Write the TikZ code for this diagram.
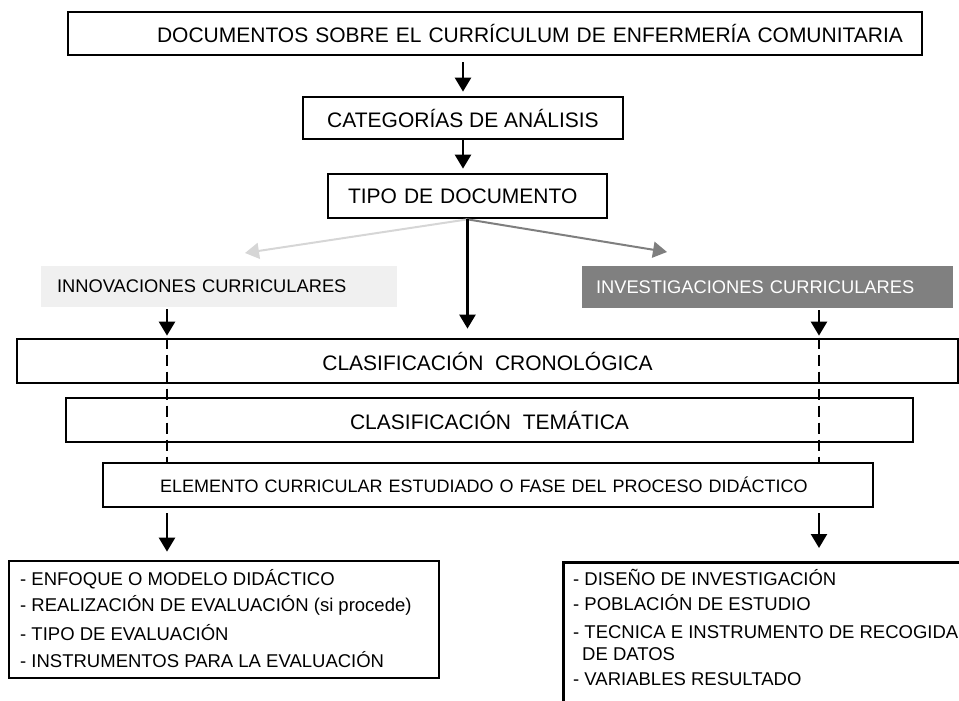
\documentclass[tikz,border=0pt]{standalone}
\usepackage{fontspec}
\setmainfont{Liberation Sans}
\usetikzlibrary{arrows.meta,positioning}

\definecolor{innovfill}{HTML}{F0F0F0}
\definecolor{investfill}{HTML}{808080}
\definecolor{lightarrow}{HTML}{D6D6D6}
\definecolor{darkarrow}{HTML}{7F7F7F}

\tikzset{
  box/.style={draw, line width=2.7pt, inner sep=0pt, minimum height=43pt,
    font=\fontsize{21}{25}\selectfont},
  tag/.style={inner sep=0pt, minimum height=41pt, align=left,
    font=\fontsize{18.3}{22}\selectfont},
  listbox/.style={draw, line width=2.7pt, inner sep=0pt},
  item/.style={inner sep=0pt, anchor=base west, font=\fontsize{18.5}{22}\selectfont},
  flow/.style={line width=2.4pt, -{Triangle[length=14pt,width=16pt]}},
  trace/.style={line width=2.6pt, dash pattern=on 11pt off 6pt},
}

\begin{document}
\begin{tikzpicture}[x=1pt,y=-1pt]
        \useasboundingbox (0,0) rectangle (959,701);
        \clip (0,0) rectangle (959,701);

        % Main chain
        \node (docs) [box, minimum width=854pt, text width=816pt, inner xsep=19pt, align=right]
          at (495,33.5) {DOCUMENTOS SOBRE EL CURRÍCULUM DE ENFERMERÍA COMUNITARIA};
        \node (cat) [box, minimum width=320pt, minimum height=42pt] at (463,118) {CATEGORÍAS DE ANÁLISIS};
        \node (tipo) [box, minimum width=279pt, minimum height=44pt, text width=239pt, inner xsep=20pt, align=left]
          at (467.5,196) {TIPO DE DOCUMENTO};

        % Document types
        \node (innov) [tag, fill=innovfill, minimum width=356pt, text width=324pt, inner xsep=16pt]
          at (219,286.5) {INNOVACIONES CURRICULARES};
        \node (invest) [tag, fill=investfill, text=white, minimum width=371pt, minimum height=42pt,
          text width=343pt, inner xsep=14pt] at (767.5,287) {INVESTIGACIONES CURRICULARES};

        % Classifications
        \node (crono) [box, minimum width=941pt, minimum height=44pt] at (487.5,361) {CLASIFICACIÓN~~CRONOLÓGICA};
        \node (tema) [box, minimum width=847pt, minimum height=44pt] at (489.5,420) {CLASIFICACIÓN~~TEMÁTICA};
        \node (elem) [box, minimum width=770pt, minimum height=44pt, text width=656pt, inner xsep=57pt,
          align=left, font=\fontsize{18}{22}\selectfont]
          at (488,485) {ELEMENTO CURRICULAR ESTUDIADO O FASE DEL PROCESO DIDÁCTICO};

        % Result boxes
        \node (innlist) [listbox, minimum width=430pt, minimum height=117pt] at (224,619.5) {};
        \node (invbox) [listbox, minimum width=420pt, minimum height=170pt, anchor=north west] at (562,561) {};

        \foreach \y/\txt [count=\i] in {585/- ENFOQUE O MODELO DIDÁCTICO,
            611/- REALIZACIÓN DE EVALUACIÓN (si procede),
            640/- TIPO DE EVALUACIÓN,
            667/- INSTRUMENTOS PARA LA EVALUACIÓN}
          \node (inn-\i) [item] at (20,\y) {\txt};

        \foreach \y/\txt [count=\i] in {585/- DISEÑO DE INVESTIGACIÓN,
            610/- POBLACIÓN DE ESTUDIO,
            638/- TECNICA E INSTRUMENTO DE RECOGIDA,
            660/\hspace*{9pt}DE DATOS,
            685/- VARIABLES RESULTADO}
          \node (inv-\i) [item] at (573,\y) {\txt};

        % Columns and free arrow ends
        \coordinate (lcol) at (167,0);
        \coordinate (rcol) at (819,0);
        \coordinate (innov-tip) at (245,253);
        \coordinate (invest-tip) at (667,252);

        % Arrows
        \draw[flow, shorten <=6pt, shorten >=4pt] (cat.north |- docs.south) -- (cat.north);
        \draw[flow, shorten >=4pt] (cat.south) -- (cat.south |- tipo.north);
        \draw[flow, lightarrow, line width=2pt] (tipo.south) -- (innov-tip);
        \draw[flow, darkarrow, line width=2pt] (tipo.south) -- (invest-tip);
        \draw[flow, shorten >=9pt] (tipo.south) -- (tipo.south |- crono.north);

        \draw[flow, shorten <=2pt, shorten >=2pt] (lcol |- innov.south) -- (lcol |- crono.north);
        \draw[flow, shorten <=2pt, shorten >=2pt] (rcol |- invest.south) -- (rcol |- crono.north);
        \draw[trace] (lcol |- crono.north) -- (lcol |- elem.north);
        \draw[trace] (rcol |- crono.north) -- (rcol |- elem.north);

        \draw[flow, shorten <=5pt, shorten >=8pt] (lcol |- elem.south) -- (lcol |- innlist.north);
        \draw[flow, shorten <=5pt, shorten >=13pt] (rcol |- elem.south) -- (rcol |- invbox.north);

        \end{tikzpicture}
\end{document}
